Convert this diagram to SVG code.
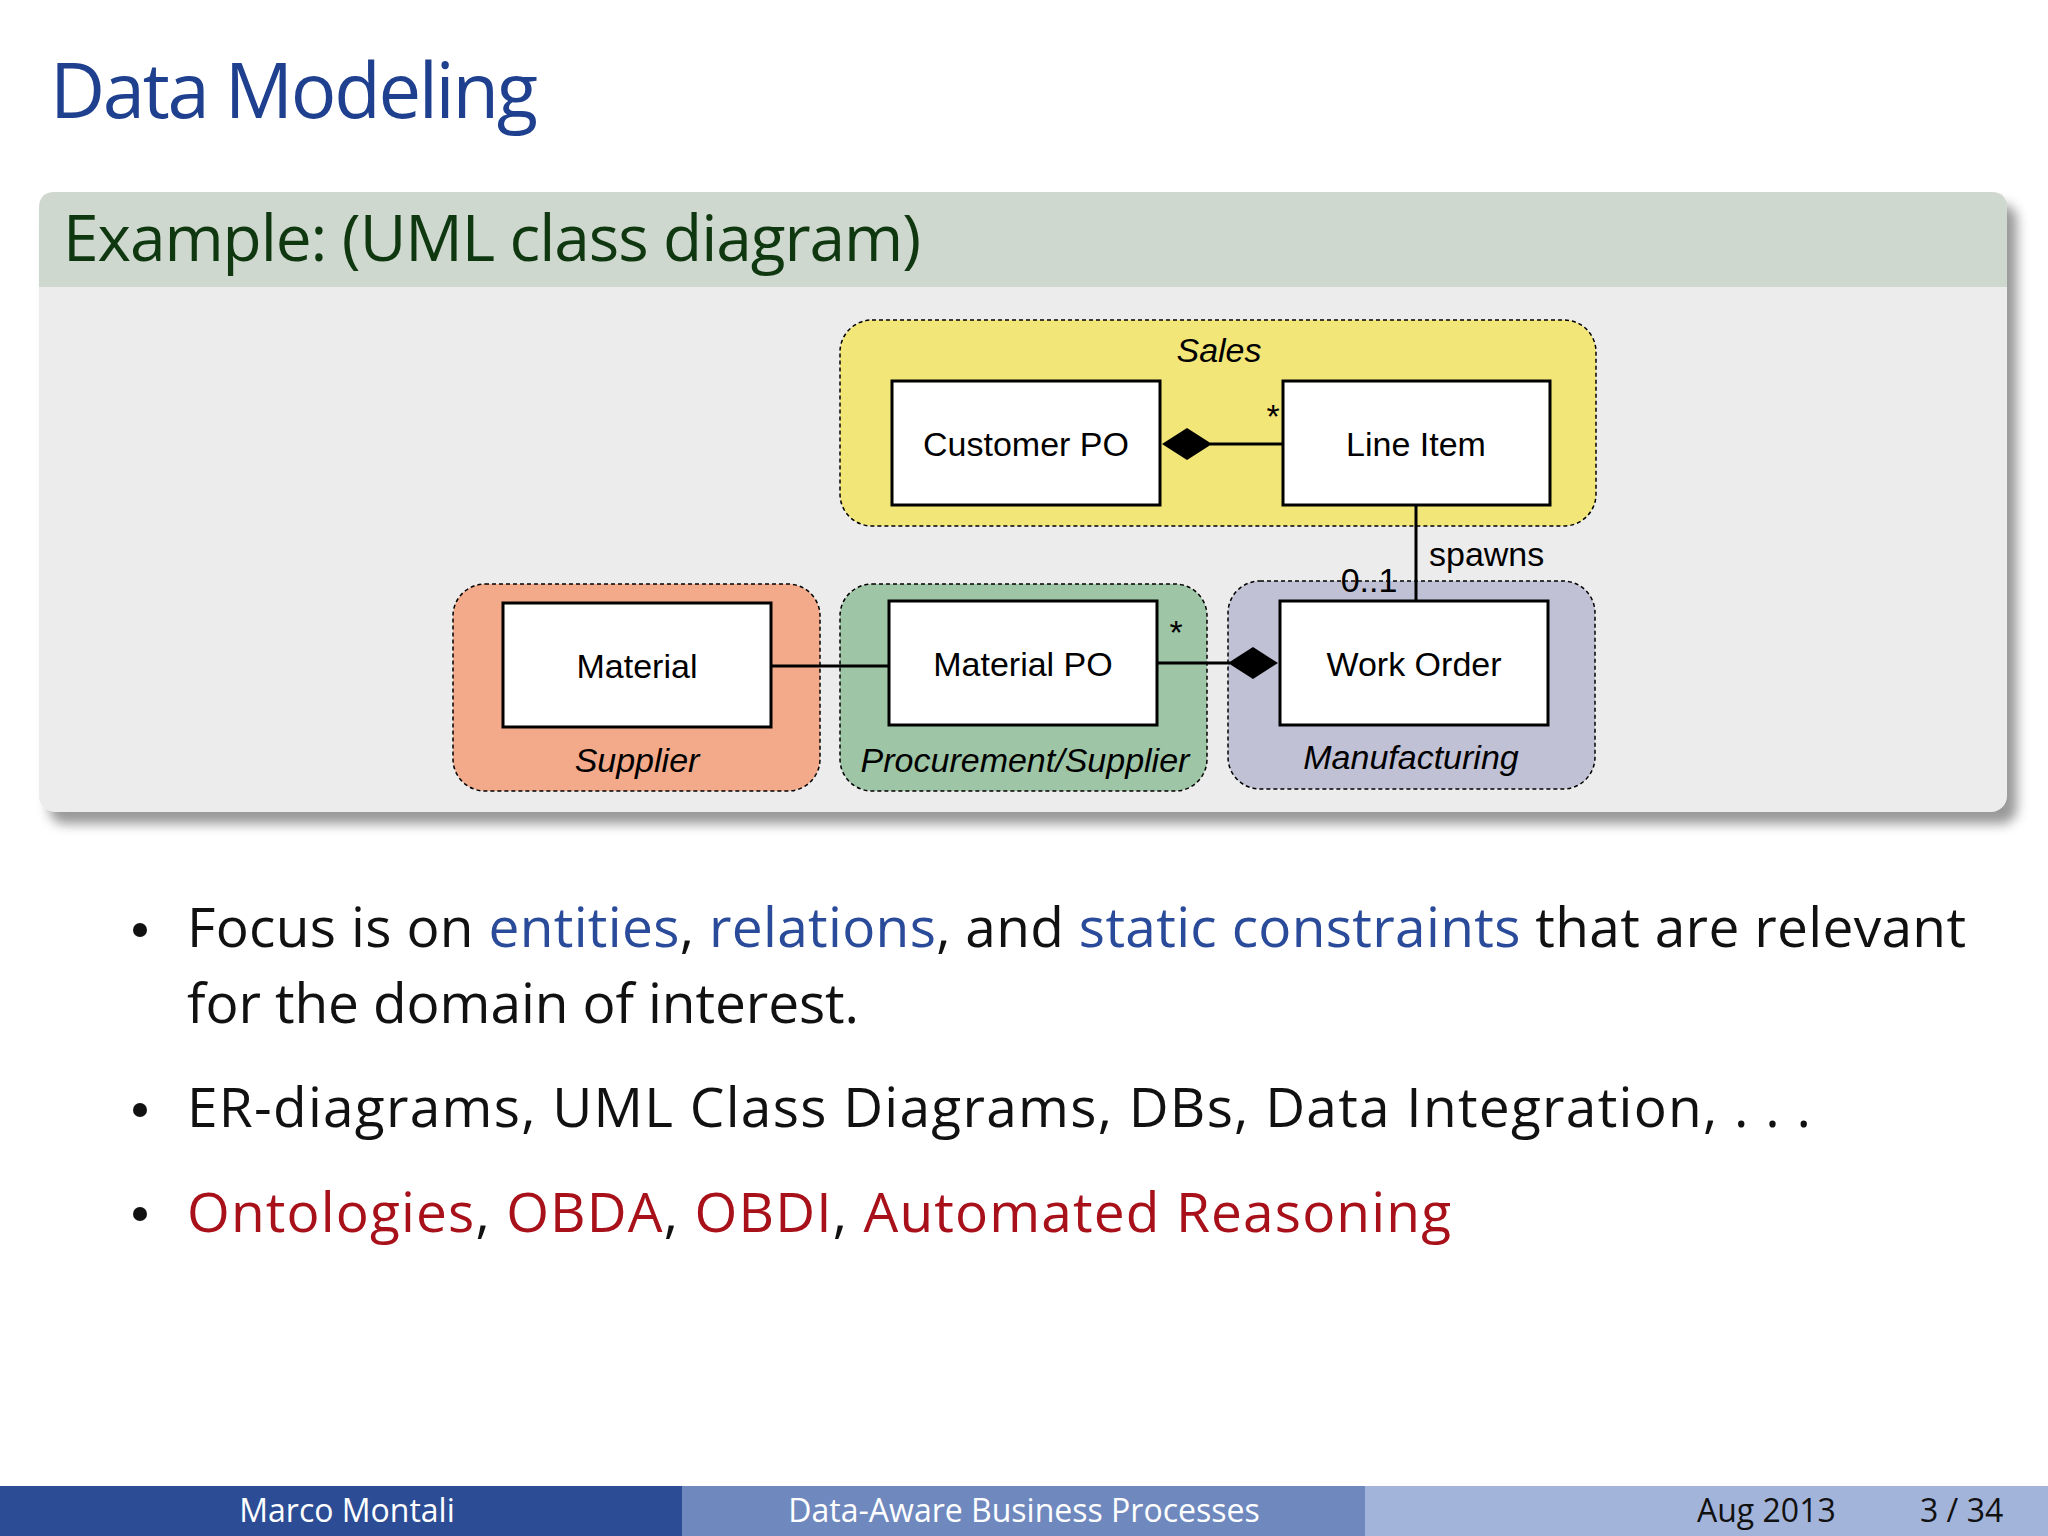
<svg xmlns="http://www.w3.org/2000/svg" width="2048" height="1536" viewBox="0 0 2048 1536">
<defs>
<style>
.s{font-family:"Open Sans","DejaVu Sans",sans-serif}
.d{font-family:"Liberation Sans",Arial,sans-serif;font-size:34px;fill:#000}
.box{fill:#fff;stroke:#000;stroke-width:3}
.grp{stroke:#000;stroke-width:1.5;stroke-dasharray:4 3}
.ln{stroke:#000;stroke-width:3;fill:none}
.b{fill:#2a4a9a}.r{fill:#a8101a}
</style>
<filter id="sh" x="-5%" y="-5%" width="110%" height="120%"><feGaussianBlur stdDeviation="6"/></filter>
</defs>
<rect width="2048" height="1536" fill="#fff"/>
<text class="s" x="50" y="118" font-size="76" fill="#1f3f8f" textLength="488">Data Modeling</text>
<rect x="49" y="204" width="1968" height="620" rx="16" fill="#555" opacity="0.6" filter="url(#sh)"/>
<rect x="39" y="192" width="1968" height="620" rx="16" fill="#ececec"/>
<path d="M39 287 V208 Q39 192 55 192 H1991 Q2007 192 2007 208 V287 Z" fill="#cfd8cf"/>
<text class="s" x="63" y="261" font-size="64" fill="#103810" textLength="858">Example: (UML class diagram)</text>
<g id="sales"><rect class="grp" x="840" y="320" width="756" height="206" rx="32" fill="#f2e678"/>
<text class="d" x="1219" y="362" text-anchor="middle" font-style="italic">Sales</text></g>
<g id="supplier"><rect class="grp" x="453" y="584" width="367" height="207" rx="32" fill="#f2aa8a"/>
<text class="d" x="637" y="772" text-anchor="middle" font-style="italic">Supplier</text></g>
<g id="procurement"><rect class="grp" x="840" y="584" width="367" height="207" rx="32" fill="#9ec5a5"/>
<text class="d" x="1025" y="772" text-anchor="middle" font-style="italic">Procurement/Supplier</text></g>
<g id="manufacturing"><rect class="grp" x="1228" y="581" width="367" height="208" rx="32" fill="#c1c1d5"/>
<text class="d" x="1411" y="769" text-anchor="middle" font-style="italic">Manufacturing</text></g>
<g id="connectors">
<line class="ln" x1="1210" y1="444" x2="1283" y2="444"/>
<polygon points="1162,444 1187,428 1212,444 1187,460" fill="#000"/>
<text class="d" x="1273" y="428" text-anchor="middle" font-size="26">*</text>
<line class="ln" x1="771" y1="666" x2="889" y2="666"/>
<line class="ln" x1="1157" y1="663" x2="1230" y2="663"/>
<polygon points="1228,663 1253,647 1278,663 1253,679" fill="#000"/>
<text class="d" x="1176" y="644" text-anchor="middle" font-size="26">*</text>
<line class="ln" x1="1416" y1="505" x2="1416" y2="601"/>
<text class="d" x="1429" y="566">spawns</text>
<text class="d" x="1369" y="592" text-anchor="middle" font-size="32">0..1</text>
</g>
<g id="customerpo"><rect class="box" x="892" y="381" width="268" height="124"/><text class="d" x="1026" y="456" text-anchor="middle">Customer PO</text></g>
<g id="lineitem"><rect class="box" x="1283" y="381" width="267" height="124"/><text class="d" x="1416" y="456" text-anchor="middle">Line Item</text></g>
<g id="material"><rect class="box" x="503" y="603" width="268" height="124"/><text class="d" x="637" y="678" text-anchor="middle">Material</text></g>
<g id="materialpo"><rect class="box" x="889" y="601" width="268" height="124"/><text class="d" x="1023" y="676" text-anchor="middle">Material PO</text></g>
<g id="workorder"><rect class="box" x="1280" y="601" width="268" height="124"/><text class="d" x="1414" y="676" text-anchor="middle">Work Order</text></g>
<g class="s" font-size="55" fill="#111">
<circle cx="140" cy="930" r="7" fill="#111"/>
<text x="187" y="947" textLength="1779">Focus is on <tspan class="b">entities</tspan>, <tspan class="b">relations</tspan>, and <tspan class="b">static constraints</tspan> that are relevant</text>
<text x="187" y="1023" textLength="672">for the domain of interest.</text>
<circle cx="140" cy="1110" r="7" fill="#111"/>
<text x="187" y="1127" textLength="1624">ER-diagrams, UML Class Diagrams, DBs, Data Integration, . . .</text>
<circle cx="140" cy="1214" r="7" fill="#111"/>
<text x="187" y="1232" textLength="1264"><tspan class="r">Ontologies</tspan>, <tspan class="r">OBDA</tspan>, <tspan class="r">OBDI</tspan>, <tspan class="r">Automated Reasoning</tspan></text>
</g>
<rect x="0" y="1486" width="682" height="50" fill="#2c4d96"/>
<rect x="682" y="1486" width="683" height="50" fill="#6f89bf"/>
<rect x="1365" y="1486" width="683" height="50" fill="#a3b4da"/>
<g class="s" font-size="32">
<text x="347" y="1522" text-anchor="middle" fill="#fff">Marco Montali</text>
<text x="1024" y="1522" text-anchor="middle" fill="#fff">Data-Aware Business Processes</text>
<text x="1697" y="1522" fill="#111">Aug 2013</text>
<text x="1920" y="1522" fill="#111">3 / 34</text>
</g>
</svg>
